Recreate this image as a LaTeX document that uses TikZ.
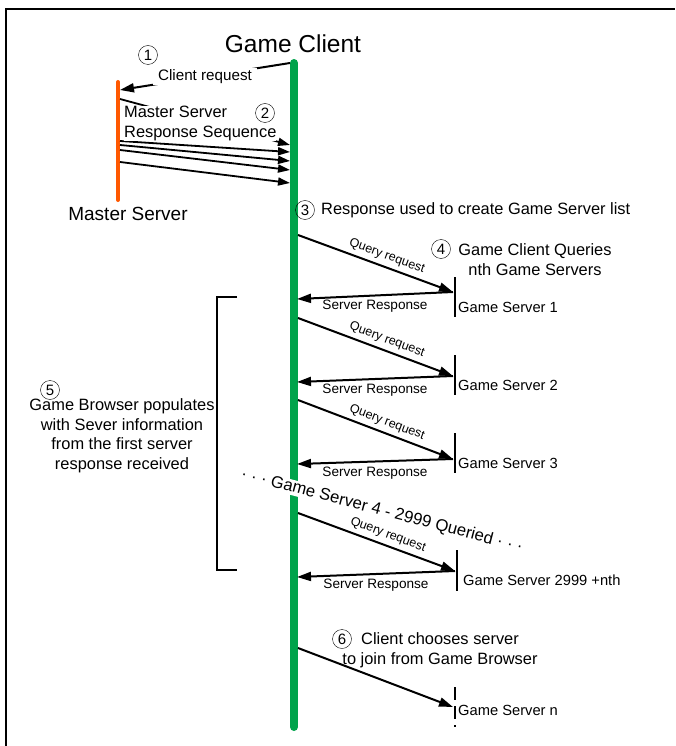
\documentclass[tikz,border=0pt]{standalone}
\usepackage{fontspec}
\setmainfont{Liberation Sans}
\usepackage{xcolor}
\definecolor{clientgreen}{RGB}{0,163,75}
\definecolor{masterorange}{RGB}{255,88,0}
\usetikzlibrary{arrows.meta}

\begin{document}
\begin{tikzpicture}[x=1pt,y=-1pt,
    lifeline/.style={line width=8pt,line cap=round},
    msg/.style={-{Triangle[length=14pt,width=9pt]},line width=2pt},
    burst/.style={-{Triangle[length=12pt,width=8pt]},line width=1.8pt},
    tick/.style={line width=2pt},
    stepnum/.style={draw,circle,inner sep=0pt,minimum size=19pt,font=\fontsize{15}{15}\selectfont},
    lbl/.style={font=\fontsize{16.4}{20}\selectfont,inner sep=1pt},
    srv/.style={font=\fontsize{14.7}{18}\selectfont,anchor=west,inner sep=0pt},
    qlbl/.style={font=\fontsize{12.5}{14}\selectfont,sloped,above,inner sep=4pt,pos=0.55},
    rlbl/.style={font=\fontsize{13.6}{16}\selectfont,below,inner sep=4pt}
  ]
  \useasboundingbox (0,0) rectangle (675,746);
  \draw[line width=2.5pt] (6,746) -- (6,9) -- (675,9);

  % lifelines
  \draw[lifeline,clientgreen] (294,63) -- (294,727);
  \draw[line width=4pt,line cap=round,masterorange] (118,82) -- (118,200);
  \node[font=\fontsize{24.5}{28}\selectfont] (client) at (293,44) {Game Client};
  \node[font=\fontsize{19}{20}\selectfont] (master) at (128,214) {Master Server};

  % steps 1 and 2
  \coordinate (creq) at (290,63);
  \coordinate (mreq) at (120,90);
  \draw[msg] (creq) -- (mreq)
    node[midway,fill=white,inner xsep=5pt,inner ysep=1pt,font=\fontsize{15.2}{18}\selectfont] (reqlbl) {Client request};
  \node[stepnum] (n1) at (148,55) {1};
  \foreach \a/\b in {99/145,141/152,145/161,150/170,162/183}
    \draw[burst] (120,\a) -- (290,\b);
  \node[lbl,fill=white,inner sep=0pt,anchor=north west,align=left] (msseq) at (124,106) {Master Server\\Response Sequence};
  \node[stepnum] (n2) at (265,113) {2};

  % step 3 and 4
  \node[stepnum] (n3) at (305,210) {3};
  \node[lbl,anchor=west] (listtxt) at (320,210) {Response used to create Game Server list};
  \node[stepnum] (n4) at (441,249) {4};
  \node[lbl,align=center] (queries) at (535,260) {Game Client Queries\\nth Game Servers};

  \node[font=\fontsize{16.7}{20}\selectfont,fill=white,inner sep=0pt,rotate=-14.7] (more) at (382,511) {· · · Game Server 4 - 2999 Queried · · ·};

  \coordinate (q1) at (298,235);
  \coordinate (gs1) at (453,292);
  \coordinate (r1) at (297,299);
  \draw[tick] (455,277) -- (455,317);
  \draw[msg] (q1) -- (gs1) node[qlbl] (ql1) {Query request};
  \draw[msg] (gs1) -- (r1) node[rlbl,midway] (rl1) {Server Response};
  \node[srv] (srv1) at (458,307) {Game Server 1};

  \coordinate (q2) at (298,318);
  \coordinate (gs2) at (453,376);
  \coordinate (r2) at (297,382);
  \draw[tick] (455,355) -- (455,395);
  \draw[msg] (q2) -- (gs2) node[qlbl] (ql2) {Query request};
  \draw[msg] (gs2) -- (r2) node[rlbl,midway] (rl2) {Server Response};
  \node[srv] (srv2) at (458,385) {Game Server 2};

  \coordinate (q3) at (298,400);
  \coordinate (gs3) at (453,459);
  \coordinate (r3) at (297,464);
  \draw[tick] (455,433) -- (455,473);
  \draw[msg] (q3) -- (gs3) node[qlbl] (ql3) {Query request};
  \draw[msg] (gs3) -- (r3) node[rlbl,midway] (rl3) {Server Response};
  \node[srv] (srv3) at (458,463) {Game Server 3};

  \coordinate (q4) at (298,513);
  \coordinate (gs4) at (455,571);
  \coordinate (r4) at (297,577);
  \draw[tick] (457,550) -- (457,591);
  \draw[msg] (q4) -- (gs4) node[qlbl] (ql4) {Query request};
  \draw[msg] (gs4) -- (r4) node[rlbl,midway] (rl4) {Server Response};
  \node[srv] (srv4) at (463,580) {Game Server 2999 +nth};

  % step 5
  \draw[line width=2pt] (237,297) -- (217,297) -- (217,570) -- (237,570);
  \node[stepnum] (n5) at (50,390) {5};
  \node[lbl,align=center,font=\fontsize{16.4}{19.5}\selectfont] (populate) at (122,436) {Game Browser populates\\with Sever information\\from the first server\\response received};

  % step 6
  \node[stepnum] (n6) at (342,639) {6};
  \node[lbl,align=center] (choose) at (440,650) {Client chooses server\\to join from Game Browser};
  \coordinate (q6) at (298,648);
  \coordinate (gsn) at (453,707);
  \draw[tick,dash pattern=on 13pt off 6pt] (455,687) -- (455,727);
  \draw[msg] (q6) -- (gsn);
  \node[srv] (srvn) at (458,710) {Game Server n};
\end{tikzpicture}
\end{document}
